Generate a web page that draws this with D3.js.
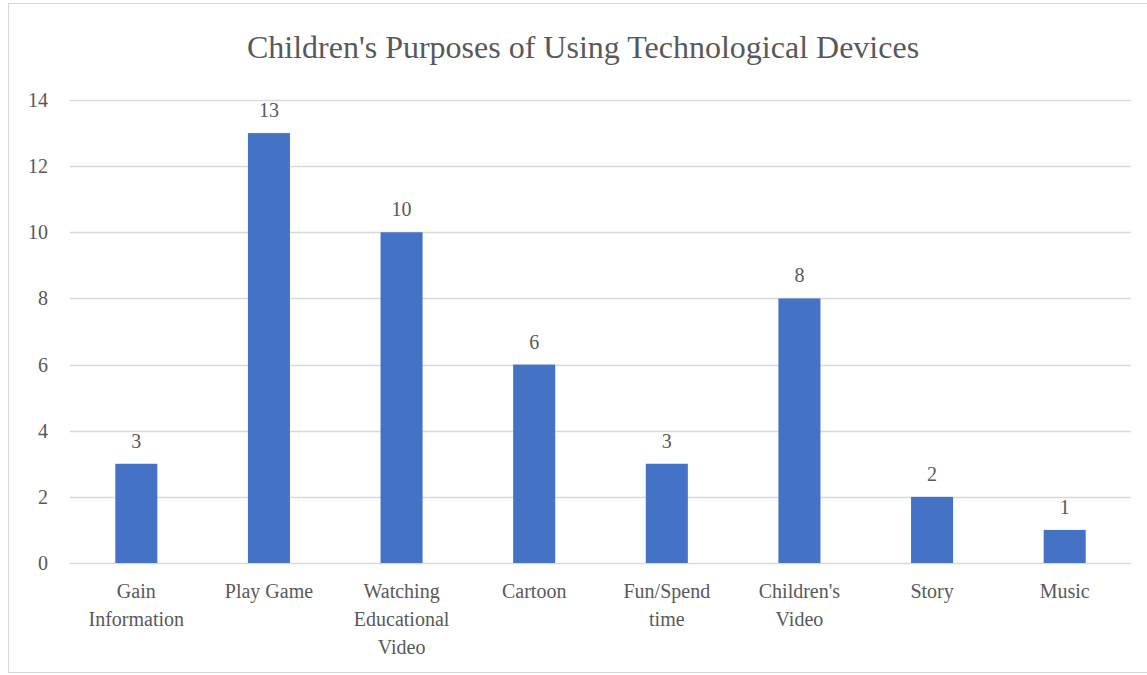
<!DOCTYPE html>
<html><head><meta charset="utf-8">
<script src="https://cdn.jsdelivr.net/npm/d3@7"></script>
<style>
body{margin:0;background:#fff;font-family:"Liberation Serif",serif}
svg{display:block}
svg text{font-family:"Liberation Serif",serif}
</style>
</head><body>
<svg id="c" width="1147" height="675"><text id="ttl" x="583" y="58" text-anchor="middle" font-family="Liberation Serif" font-size="32" fill="#595959">Children's Purposes of Using Technological Devices</text></svg>
<script>
const categories = [["Gain","Information"],["Play Game"],["Watching","Educational","Video"],["Cartoon"],["Fun/Spend","time"],["Children's","Video"],["Story"],["Music"]];
const values = [3,13,10,6,3,8,2,1];
const yTicks = [0,2,4,6,8,10,12,14];
const title = "Children's Purposes of Using Technological Devices";

(function(){
const FONT = "Liberation Serif";
const TXT = "#595959";
const svg = d3.select("#c");
svg.insert("rect", ":first-child").attr("x",8.5).attr("y",3.5).attr("width",1150).attr("height",669).attr("fill","#fff").attr("stroke","#d9d9d9");
const pL=70,pR=1131,pT=100,pB=563;
const x = d3.scaleBand().domain(d3.range(categories.length)).range([pL,pR]).paddingInner(0.683).paddingOuter(0.3415);
const y = d3.scaleLinear().domain([0,14]).range([pB,pT]);

svg.select("#ttl").text(title);

const g = svg.append("g");
g.selectAll("line.grid").data(yTicks).join("line").attr("x1",pL).attr("x2",pR)
 .attr("y1",d=>Math.round(y(d))+0.5).attr("y2",d=>Math.round(y(d))+0.5).attr("stroke","#d9d9d9").attr("stroke-width",1.3);
g.selectAll("text.yt").data(yTicks).join("text").attr("x",48).attr("y",d=>y(d)+7).attr("text-anchor","end").attr("font-family",FONT).attr("font-size",20).attr("fill",TXT).text(d=>d);

g.selectAll("rect.bar").data(values).join("rect").attr("x",(d,i)=>x(i)).attr("width",x.bandwidth())
 .attr("y",d=>y(d)).attr("height",d=>y(0)-y(d)).attr("fill","#4472c4");
g.selectAll("text.lab").data(values).join("text").attr("x",(d,i)=>x(i)+x.bandwidth()/2).attr("y",d=>y(d)-16)
 .attr("text-anchor","middle").attr("font-family",FONT).attr("font-size",20).attr("fill",TXT).text(d=>d);

categories.forEach((lines,i)=>{
  const t = g.append("text").attr("text-anchor","middle").attr("font-family",FONT).attr("font-size",20).attr("fill",TXT);
  lines.forEach((l,j)=>t.append("tspan").attr("x",x(i)+x.bandwidth()/2).attr("y",598+j*28).text(l));
});
})();
</script></body></html>
